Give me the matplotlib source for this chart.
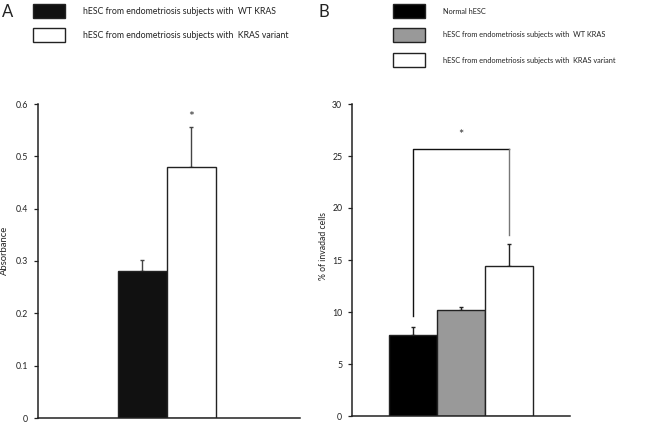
import matplotlib.pyplot as plt
from matplotlib.patches import Rectangle

plt.rcParams['font.family'] = ['Lato', 'DejaVu Sans']

# panel A: absorbance
a_labels = ["hESC from endometriosis subjects with  WT KRAS",
            "hESC from endometriosis subjects with  KRAS variant"]
a_values = [0.28, 0.48]
a_errors = [0.022, 0.077]
a_colors = ["#111111", "#ffffff"]
a_ticks = [0, 0.1, 0.2, 0.3, 0.4, 0.5, 0.6]
a_ticklabels = ["0", "0.1", "0.2", "0.3", "0.4", "0.5", "0.6"]

# panel B: invasion
b_labels = ["Normal hESC",
            "hESC from endometriosis subjects with  WT KRAS",
            "hESC from endometriosis subjects with  KRAS variant"]
b_values = [7.8, 10.2, 14.4]
b_errors = [0.8, 0.25, 2.1]
b_colors = ["#000000", "#999999", "#ffffff"]
b_ticks = [0, 5, 10, 15, 20, 25, 30]
b_bracket = 25.7
b_bracket_left_from = 9.6
b_bracket_right_from = 17.4

fig = plt.figure(figsize=(6.5, 4.22), dpi=100)
W, H = 650, 422


def style_axis(ax):
    ax.spines["top"].set_visible(False)
    ax.spines["right"].set_visible(False)
    ax.spines["left"].set_linewidth(1.1)
    ax.spines["bottom"].set_linewidth(1.1)
    ax.spines["left"].set_color("#222222")
    ax.spines["bottom"].set_color("#222222")
    ax.tick_params(axis="y", direction="out", length=3, width=0.9,
                   labelsize=6.3, pad=4, colors="#222222")
    ax.tick_params(axis="x", bottom=False, labelbottom=False)


def legend(x_box, x_text, y_rows, labels, colors, size):
    for y, lab, col in zip(y_rows, labels, colors):
        fig.patches.append(Rectangle((x_box / W, 1 - (y + 6.5) / H), 32 / W, 13 / H,
                                     transform=fig.transFigure, facecolor=col,
                                     edgecolor="#222222", linewidth=1.0))
        fig.text(x_text / W, 1 - y / H, lab, fontsize=size, va="center",
                 ha="left", color="#222222")


# ---- panel A
axA = fig.add_axes([38 / W, 1 - 418 / H, 262 / W, 314 / H])
xa = list(range(len(a_values)))
axA.bar(xa, a_values, width=1.0, color=a_colors, edgecolor="#222222",
        linewidth=1.0, zorder=2)
axA.errorbar(xa, a_values, yerr=[[0] * len(a_errors), a_errors], fmt="none",
             ecolor="#444444", elinewidth=1.0, capsize=1.5, capthick=1.0, zorder=1)
axA.text(1, a_values[1] + a_errors[1] + 0.019, "*", ha="center", va="center",
         fontsize=10, color="#333333")
axA.set_xlim(-2.13, 3.22)
axA.set_ylim(0, 0.6)
axA.set_yticks(a_ticks)
axA.set_yticklabels(a_ticklabels)
axA.set_ylabel("Absorbance", fontsize=6.8, color="#222222")
axA.yaxis.set_label_coords(-29 / 262, (418 - 250) / 314)
style_axis(axA)

# ---- panel B
axB = fig.add_axes([352 / W, 1 - 416 / H, 218 / W, 312 / H])
xb = list(range(len(b_values)))
axB.bar(xb, b_values, width=1.0, color=b_colors, edgecolor="#222222",
        linewidth=1.0, zorder=2)
axB.errorbar(xb, b_values, yerr=[[0] * len(b_errors), b_errors], fmt="none",
             ecolor="#222222", elinewidth=1.0, capsize=1.5, capthick=1.0, zorder=1)
axB.plot([0, 0, 2], [b_bracket_left_from, b_bracket, b_bracket],
         color="#111111", linewidth=1.0)
axB.plot([2, 2], [b_bracket, b_bracket_right_from], color="#777777",
         linewidth=1.0)
axB.text(1, b_bracket + 1.3, "*", ha="center", va="center", fontsize=9,
         color="#333333")
axB.set_xlim(-1.27, 3.27)
axB.set_ylim(0, 30)
axB.set_yticks(b_ticks)
axB.set_ylabel("% of invadad cells", fontsize=6.2, color="#222222")
axB.yaxis.set_label_coords(-24 / 218, (416 - 246) / 312)
style_axis(axB)

# ---- panel letters and legends
fig.text(2 / W, 1 - 12 / H, "A", fontsize=12, va="center", ha="left", color="#222222")
fig.text(319 / W, 1 - 12 / H, "B", fontsize=12, va="center", ha="left", color="#222222")
legend(33, 83, [11, 35], a_labels, a_colors, 6.35)
legend(393, 443, [11, 35, 60], b_labels, b_colors, 5.3)

fig.savefig("out.png", dpi=100)
